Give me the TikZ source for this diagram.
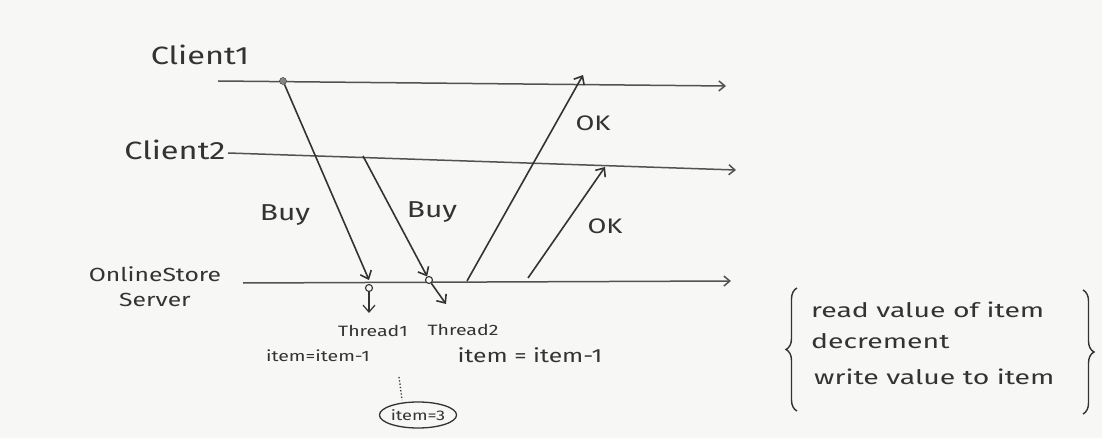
\documentclass[tikz,border=0pt]{standalone}
\usepackage{fontspec}
\setmainfont{Fira Sans}
\newfontfamily\hand[FakeStretch=1.3]{Fira Sans}
\newfontfamily\handw[FakeStretch=1.42]{Fira Sans}
\usetikzlibrary{arrows.meta,shapes.geometric,decorations.pathreplacing}
\definecolor{pencil}{HTML}{333333}
\definecolor{paper}{HTML}{F7F7F5}
\begin{document}
\begin{tikzpicture}[x=1pt,y=-1pt,
  lbl/.style={font=\hand\fontsize{23}{25}\selectfont, text=pencil, inner sep=1pt},
  small/.style={font=\hand\fontsize{15}{17}\selectfont, text=pencil, inner sep=1pt},
  note/.style={font=\handw\fontsize{20}{22}\selectfont, text=pencil, inner sep=1pt, anchor=west},
  timeline/.style={draw=pencil!85, line width=1.5pt, -{Straight Barb[length=6pt,width=10pt]}},
  msg/.style={draw=pencil, line width=1.6pt, -{Straight Barb[length=7pt,width=12pt]}},
  dotmark/.style={circle, draw=pencil, fill=pencil!60, minimum size=7pt, inner sep=0pt},
  ring/.style={circle, draw=pencil, fill=paper, minimum size=7pt, inner sep=0pt, line width=1.1pt}]
\fill[paper] (0,0) rectangle (1102,438);
\useasboundingbox (0,0) rectangle (1102,438);
% labels
\node[lbl, font=\hand\fontsize{25}{27}\selectfont] (c1) at (200,55) {Client1};
\node[lbl, font=\hand\fontsize{25}{27}\selectfont] (c2) at (175,150) {Client2};
\node[lbl, align=center, font=\hand\fontsize{19}{25}\selectfont] (srv) at (155,287) {OnlineStore\\Server};
% timeline coordinates
\coordinate (c1s) at (218,81);
\coordinate (c1e) at (726,86);
\coordinate (c2s) at (228,153);
\coordinate (c2e) at (736,170);
\coordinate (ss) at (243,283);
\coordinate (se) at (731,281);
\draw[timeline] (c1s) -- (c1e);
\draw[timeline] (c2s) -- (c2e);
\draw[timeline] (ss) -- (se);
% buy messages
\node[dotmark] (d1) at (283,81) {};
\coordinate (b1e) at (369,280);
\draw[msg] (d1) -- (b1e);
\node[lbl] (buy1) at (285,215) {Buy};
\coordinate (b2s) at (363,156);
\node[ring] (d2) at (429,280) {};
\draw[msg] (b2s) -- (d2);
\coordinate (b2e) at (446,304);
\draw[msg] (d2) -- (b2e);
\node[lbl] (buy2) at (432,212) {Buy};
% thread 1 mark
\node[ring] (r1) at (369,288) {};
\coordinate (r1e) at (369,313);
\draw[msg, line width=1.2pt] (r1) -- (r1e);
% ok messages
\coordinate (o1s) at (467,281);
\coordinate (o1e) at (583,75);
\draw[msg] (o1s) -- (o1e);
\node[lbl, font=\hand\fontsize{21}{23}\selectfont] (ok1) at (593,123) {OK};
\coordinate (o2s) at (528,278);
\coordinate (o2e) at (605,167);
\draw[msg] (o2s) -- (o2e);
\node[lbl, font=\hand\fontsize{21}{23}\selectfont] (ok2) at (605,226) {OK};
% thread labels
\node[small] (t1) at (373,331) {Thread1};
\node[small] (t2) at (463,330) {Thread2};
\node[lbl, font=\hand\fontsize{15}{17}\selectfont] (a1) at (318,356) {item=item-1};
\node[lbl, font=\hand\fontsize{19}{21}\selectfont] (a2) at (530,355) {item = item-1};
\node[small, font=\hand\fontsize{14}{16}\selectfont, ellipse, draw=pencil, line width=1.3pt, minimum width=62pt, minimum height=26pt, inner sep=0pt] (i3) at (418,415) {item=3};
\coordinate (dt) at (399,377);
\coordinate (db) at (402,400);
\draw[pencil, line width=1.3pt, dotted] (dt) -- (db);
% right side
\node[note] (r1t) at (810,310) {read value of item};
\node[note] (r2t) at (810,341) {decrement};
\node[note] (r3t) at (813,377) {write value to item};
\coordinate (lb1) at (797,411);
\coordinate (lb2) at (797,288);
\draw[pencil, line width=1.4pt, decorate, decoration={brace, amplitude=11pt}] (lb1) -- (lb2);
\coordinate (rb1) at (1083,290);
\coordinate (rb2) at (1083,414);
\draw[pencil, line width=1.4pt, decorate, decoration={brace, amplitude=11pt}] (rb1) -- (rb2);
\end{tikzpicture}
\end{document}
